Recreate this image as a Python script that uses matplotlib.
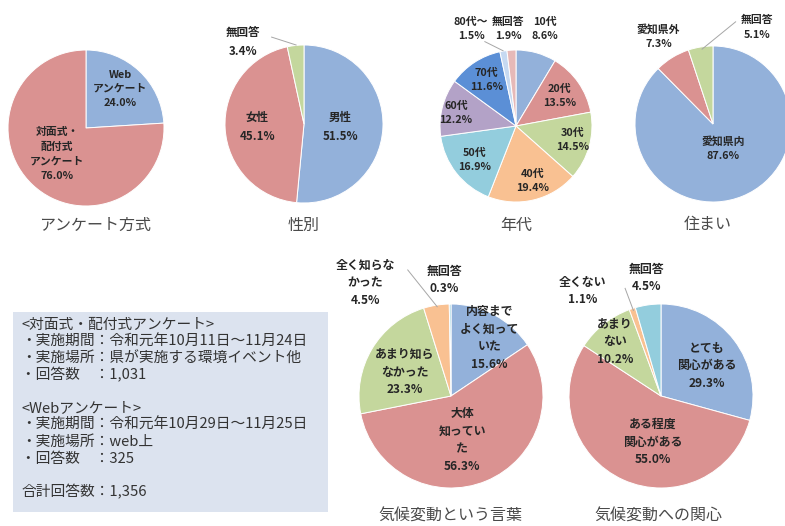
import matplotlib
matplotlib.use("Agg")
import matplotlib.pyplot as plt
from matplotlib.patches import Rectangle

plt.rcParams['font.family'] = ['Noto Sans CJK JP', 'DejaVu Sans']

W, H = 785, 526

# ---------------- data ----------------
method_labels = ['Web\nアンケート', '対面式・\n配付式\nアンケート']
method_values = [24.0, 76.0]

gender_labels = ['男性', '女性', '無回答']
gender_values = [51.5, 45.1, 3.4]

age_labels = ['10代', '20代', '30代', '40代', '50代', '60代', '70代', '80代～', '無回答']
age_values = [8.6, 13.5, 14.5, 19.4, 16.9, 12.2, 11.6, 1.5, 1.9]

home_labels = ['愛知県内', '愛知県外', '無回答']
home_values = [87.6, 7.3, 5.1]

word_labels = ['内容まで\nよく知って\nいた', '大体\n知ってい\nた', 'あまり知ら\nなかった', '全く知らな\nかった', '無回答']
word_values = [15.6, 56.3, 23.3, 4.5, 0.3]

interest_labels = ['とても\n関心がある', 'ある程度\n関心がある', 'あまり\nない', '全くない', '無回答']
interest_values = [29.3, 55.0, 10.2, 1.1, 4.5]

titles = ['アンケート方式', '性別', '年代', '住まい', '気候変動という言葉', '気候変動への関心']

box_lines = ['<対面式・配付式アンケート>',
             '・実施期間：令和元年10月11日～11月24日',
             '・実施場所：県が実施する環境イベント他',
             '・回答数　：1,031',
             '',
             '<Webアンケート>',
             '・実施期間：令和元年10月29日～11月25日',
             '・実施場所：web上',
             '・回答数　：325',
             '',
             '合計回答数：1,356']

# ---------------- style ----------------
BLUE = '#93B1DA'
RED = '#DA9291'
GREEN = '#C4D79D'
ORANGE = '#F9C192'
CYAN = '#93CDDD'
PURPLE = '#B3A2C7'
DBLUE = '#5B8FD6'
LBLUE = '#C6D9F1'
PINK = '#E6B9B8'
TXT = '#262626'

fig = plt.figure(figsize=(W / 100, H / 100), dpi=100)
fig.patch.set_facecolor('white')


def draw_pie(cx, cy, r, values, labels, colors, label_pos, fs, ls, leaders=()):
    k = 1.45
    ax = fig.add_axes([(cx - k * r) / W, 1 - (cy + k * r) / H, 2 * k * r / W, 2 * k * r / H])
    ax.pie(values, colors=colors, startangle=90, counterclock=False, radius=1,
           wedgeprops=dict(edgecolor='white', linewidth=0.7))
    ax.set_xlim(-k, k)
    ax.set_ylim(-k, k)
    ax.set_aspect('equal')
    ax.axis('off')
    for lab, v, (x, y) in zip(labels, values, label_pos):
        ax.text(x, y, f'{lab}\n{v:.1f}%', ha='center', va='center', fontsize=fs,
                color=TXT, linespacing=ls, fontweight='bold', clip_on=False)
    for (x0, y0), (x1, y1) in leaders:
        ax.plot([x0, x1], [y0, y1], color='#A6A6A6', lw=0.7, clip_on=False)
    return ax


def title(x, y, s):
    fig.text(x / W, 1 - y / H, s, ha='center', va='center', fontsize=11.5, color='#4A4A4A')


# pie 1
draw_pie(86, 128, 78, method_values, method_labels, [BLUE, RED],
         [(0.44, 0.50), (-0.37, -0.33)], 7.8, 1.55)
title(95, 225, titles[0])

# pie 2
draw_pie(304, 124, 79, gender_values, gender_labels, [BLUE, RED, GREEN],
         [(0.46, -0.04), (-0.59, -0.04), (-0.77, 1.04)], 8.3, 1.6,
         leaders=[((-0.41, 1.10), (-0.10, 1.0))])
title(304, 225, titles[1])

# pie 3
draw_pie(516, 126, 76, age_values, age_labels,
         [BLUE, RED, GREEN, ORANGE, CYAN, PURPLE, DBLUE, LBLUE, PINK],
         [(0.38, 1.28), (0.57, 0.39), (0.75, -0.18), (0.22, -0.72), (-0.54, -0.45),
          (-0.79, 0.17), (-0.39, 0.60), (-0.59, 1.28), (-0.10, 1.28)], 7.8, 1.5,
         leaders=[((-0.41, 1.11), (-0.17, 0.99))])
title(516, 225, titles[2])

# pie 4
draw_pie(713, 124, 78, home_values, home_labels, [BLUE, RED, GREEN],
         [(0.13, -0.31), (-0.70, 1.12), (0.56, 1.24)], 7.8, 1.55,
         leaders=[((0.29, 1.31), (-0.14, 0.96))])
title(708, 225, titles[3])

# pie 5
draw_pie(451, 396, 92, word_values, word_labels, [BLUE, RED, GREEN, ORANGE, CYAN],
         [(0.42, 0.63), (0.12, -0.48), (-0.50, 0.26), (-0.93, 1.23), (-0.07, 1.26)], 8.6, 1.45,
         leaders=[((-0.47, 1.37), (-0.15, 0.97))])
title(450, 516, titles[4])

# pie 6
draw_pie(661, 396, 92, interest_values, interest_labels, [BLUE, RED, GREEN, ORANGE, CYAN],
         [(0.50, 0.33), (-0.09, -0.50), (-0.50, 0.59), (-0.85, 1.14), (-0.16, 1.28)], 8.6, 1.45,
         leaders=[((-0.39, 1.17), (-0.30, 0.93))])
title(658, 516, titles[5])

# info box
bx0, by0, bx1, by1 = 13, 312, 328, 512
fig.add_artist(Rectangle((bx0 / W, 1 - by1 / H), (bx1 - bx0) / W, (by1 - by0) / H,
                         transform=fig.transFigure, facecolor='#DCE3EF', edgecolor='none'))
y = 325
for line in box_lines:
    if line:
        fig.text(21 / W, 1 - y / H, line, ha='left', va='center', fontsize=10.6, color='#333333')
    y += 16.7

fig.savefig('out.png', dpi=100, facecolor='white')
